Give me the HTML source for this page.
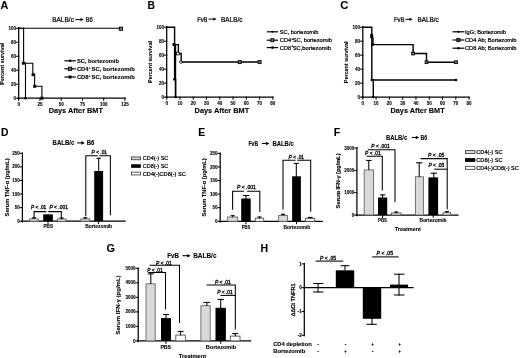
<!DOCTYPE html>
<html><head><meta charset="utf-8"><style>
html,body{margin:0;padding:0;background:#fff;width:520px;height:358px;overflow:hidden}
svg{display:block;will-change:transform}
text{font-family:"Liberation Sans",sans-serif}

</style></head><body>
<svg width="520" height="358" viewBox="0 0 520 358">
<rect width="520" height="358" fill="#fff"/>
<text x="0.45" y="8.55" font-size="11" stroke="#000" stroke-width="0.1" font-weight="bold" textLength="7.78" lengthAdjust="spacingAndGlyphs">A</text>
<text x="147.55" y="8.80" font-size="11" stroke="#000" stroke-width="0.1" font-weight="bold" textLength="7.43" lengthAdjust="spacingAndGlyphs">B</text>
<text x="340.15" y="8.60" font-size="11" stroke="#000" stroke-width="0.1" font-weight="bold" textLength="8.13" lengthAdjust="spacingAndGlyphs">C</text>
<text x="0.95" y="135.80" font-size="11" stroke="#000" stroke-width="0.1" font-weight="bold" textLength="7.43" lengthAdjust="spacingAndGlyphs">D</text>
<text x="198.25" y="135.70" font-size="11" stroke="#000" stroke-width="0.1" font-weight="bold" textLength="6.94" lengthAdjust="spacingAndGlyphs">E</text>
<text x="333.65" y="135.80" font-size="11" stroke="#000" stroke-width="0.1" font-weight="bold" textLength="6.46" lengthAdjust="spacingAndGlyphs">F</text>
<text x="106.55" y="252.00" font-size="11" stroke="#000" stroke-width="0.1" font-weight="bold" textLength="8.49" lengthAdjust="spacingAndGlyphs">G</text>
<text x="260.55" y="252.20" font-size="11" stroke="#000" stroke-width="0.1" font-weight="bold" textLength="7.60" lengthAdjust="spacingAndGlyphs">H</text>
<line x1="18.70" y1="27.70" x2="18.70" y2="98.80" stroke="#000" stroke-width="1.25" stroke-linecap="square"/>
<line x1="16.30" y1="98.20" x2="18.70" y2="98.20" stroke="#000" stroke-width="1.0" stroke-linecap="square"/>
<text x="16.00" y="99.80" font-size="4.5" stroke="#000" stroke-width="0.1" font-weight="bold" text-anchor="end">0</text>
<line x1="16.30" y1="84.22" x2="18.70" y2="84.22" stroke="#000" stroke-width="1.0" stroke-linecap="square"/>
<text x="16.00" y="85.82" font-size="4.5" stroke="#000" stroke-width="0.1" font-weight="bold" text-anchor="end">20</text>
<line x1="16.30" y1="70.24" x2="18.70" y2="70.24" stroke="#000" stroke-width="1.0" stroke-linecap="square"/>
<text x="16.00" y="71.84" font-size="4.5" stroke="#000" stroke-width="0.1" font-weight="bold" text-anchor="end">40</text>
<line x1="16.30" y1="56.26" x2="18.70" y2="56.26" stroke="#000" stroke-width="1.0" stroke-linecap="square"/>
<text x="16.00" y="57.86" font-size="4.5" stroke="#000" stroke-width="0.1" font-weight="bold" text-anchor="end">60</text>
<line x1="16.30" y1="42.28" x2="18.70" y2="42.28" stroke="#000" stroke-width="1.0" stroke-linecap="square"/>
<text x="16.00" y="43.88" font-size="4.5" stroke="#000" stroke-width="0.1" font-weight="bold" text-anchor="end">80</text>
<line x1="16.30" y1="28.30" x2="18.70" y2="28.30" stroke="#000" stroke-width="1.0" stroke-linecap="square"/>
<text x="16.00" y="29.90" font-size="4.5" stroke="#000" stroke-width="0.1" font-weight="bold" text-anchor="end">100</text>
<line x1="18.10" y1="98.20" x2="125.30" y2="98.20" stroke="#000" stroke-width="1.25" stroke-linecap="square"/>
<line x1="18.70" y1="98.20" x2="18.70" y2="100.40" stroke="#000" stroke-width="1.0" stroke-linecap="square"/>
<text x="18.70" y="105.80" font-size="4.5" stroke="#000" stroke-width="0.1" font-weight="bold" text-anchor="middle">0</text>
<line x1="39.95" y1="98.20" x2="39.95" y2="100.40" stroke="#000" stroke-width="1.0" stroke-linecap="square"/>
<text x="39.95" y="105.80" font-size="4.5" stroke="#000" stroke-width="0.1" font-weight="bold" text-anchor="middle">25</text>
<line x1="61.20" y1="98.20" x2="61.20" y2="100.40" stroke="#000" stroke-width="1.0" stroke-linecap="square"/>
<text x="61.20" y="105.80" font-size="4.5" stroke="#000" stroke-width="0.1" font-weight="bold" text-anchor="middle">50</text>
<line x1="82.45" y1="98.20" x2="82.45" y2="100.40" stroke="#000" stroke-width="1.0" stroke-linecap="square"/>
<text x="82.45" y="105.80" font-size="4.5" stroke="#000" stroke-width="0.1" font-weight="bold" text-anchor="middle">75</text>
<line x1="103.70" y1="98.20" x2="103.70" y2="100.40" stroke="#000" stroke-width="1.0" stroke-linecap="square"/>
<text x="103.70" y="105.80" font-size="4.5" stroke="#000" stroke-width="0.1" font-weight="bold" text-anchor="middle">100</text>
<line x1="124.95" y1="98.20" x2="124.95" y2="100.40" stroke="#000" stroke-width="1.0" stroke-linecap="square"/>
<text x="124.95" y="105.80" font-size="4.5" stroke="#000" stroke-width="0.1" font-weight="bold" text-anchor="middle">125</text>
<text x="4.40" y="63.80" font-size="6.2" stroke="#000" stroke-width="0.1" font-weight="bold" text-anchor="middle" textLength="41.80" lengthAdjust="spacingAndGlyphs" transform="rotate(-90 4.40 63.80)">Percent survival</text>
<text x="48.70" y="113.30" font-size="7.4" stroke="#000" stroke-width="0.1" font-weight="bold" textLength="54.20" lengthAdjust="spacingAndGlyphs">Days After BMT</text>
<text x="52.20" y="22.00" font-size="6.8" stroke="#000" stroke-width="0.22" textLength="21.70" lengthAdjust="spacingAndGlyphs">BALB/c</text>
<line x1="75.30" y1="19.60" x2="80.80" y2="19.60" stroke="#000" stroke-width="1.0"/>
<path d="M83.70,19.60 L80.50,18.00 L80.50,21.20 Z" fill="#000"/>
<text x="85.50" y="22.00" font-size="6.8" stroke="#000" stroke-width="0.22" textLength="7.30" lengthAdjust="spacingAndGlyphs">B6</text>
<path d="M18.70,28.30 L120.90,28.30" fill="none" stroke="#000" stroke-width="1.1" stroke-linejoin="miter" stroke-linecap="square"/>
<path d="M18.70,28.30 L23.60,28.30 L23.60,63.20 L32.80,63.20 L32.80,74.60 L34.60,74.60 L34.60,86.30 L41.90,86.30 L41.90,98.20" fill="none" stroke="#000" stroke-width="1.1" stroke-linejoin="miter" stroke-linecap="square"/>
<path d="M23.60,63.20 L25.50,63.20 L25.50,98.20" fill="none" stroke="#000" stroke-width="1.1" stroke-linejoin="miter" stroke-linecap="square"/>
<rect x="119.30" y="27.10" width="3.20" height="3.20" fill="#777" stroke="#000" stroke-width="0.9"/>
<rect x="21.90" y="61.70" width="3.00" height="3.00" fill="#000"/>
<rect x="31.60" y="73.10" width="3.00" height="3.00" fill="#000"/>
<rect x="33.20" y="84.80" width="3.00" height="3.00" fill="#000"/>
<rect x="40.40" y="96.70" width="3.00" height="3.00" fill="#000"/>
<circle cx="25.50" cy="98.20" r="1.4" fill="#000"/>
<line x1="65.00" y1="60.80" x2="75.20" y2="60.80" stroke="#000" stroke-width="1.2" stroke-linecap="square"/>
<circle cx="70.10" cy="60.80" r="1.2" fill="#000"/>
<line x1="65.00" y1="68.80" x2="75.20" y2="68.80" stroke="#000" stroke-width="1.2" stroke-linecap="square"/>
<rect x="68.50" y="67.20" width="3.20" height="3.20" fill="#777" stroke="#000" stroke-width="0.9"/>
<line x1="65.00" y1="77.00" x2="75.20" y2="77.00" stroke="#000" stroke-width="1.2" stroke-linecap="square"/>
<rect x="68.60" y="75.50" width="3.00" height="3.00" fill="#000"/>
<text x="76.90" y="62.90" font-size="5.8" stroke="#000" stroke-width="0.1" font-weight="bold" textLength="42.00" lengthAdjust="spacingAndGlyphs">SC, bortezomib</text>
<text x="76.90" y="70.90" font-size="5.8" stroke="#000" stroke-width="0.1" font-weight="bold">CD4</text>
<text x="88.70" y="68.50" font-size="3.3" stroke="#000" stroke-width="0.1" font-weight="bold">+</text>
<text x="91.50" y="70.90" font-size="5.8" stroke="#000" stroke-width="0.1" font-weight="bold" textLength="43.30" lengthAdjust="spacingAndGlyphs">SC, bortezomib</text>
<text x="76.90" y="79.10" font-size="5.8" stroke="#000" stroke-width="0.1" font-weight="bold">CD8</text>
<text x="88.70" y="76.70" font-size="3.3" stroke="#000" stroke-width="0.1" font-weight="bold">+</text>
<text x="91.50" y="79.10" font-size="5.8" stroke="#000" stroke-width="0.1" font-weight="bold" textLength="43.30" lengthAdjust="spacingAndGlyphs">SC, bortezomib</text>
<line x1="166.70" y1="26.60" x2="166.70" y2="97.70" stroke="#000" stroke-width="1.25" stroke-linecap="square"/>
<line x1="164.30" y1="97.10" x2="166.70" y2="97.10" stroke="#000" stroke-width="1.0" stroke-linecap="square"/>
<text x="164.00" y="98.70" font-size="4.5" stroke="#000" stroke-width="0.1" font-weight="bold" text-anchor="end">0</text>
<line x1="164.30" y1="83.12" x2="166.70" y2="83.12" stroke="#000" stroke-width="1.0" stroke-linecap="square"/>
<text x="164.00" y="84.72" font-size="4.5" stroke="#000" stroke-width="0.1" font-weight="bold" text-anchor="end">20</text>
<line x1="164.30" y1="69.14" x2="166.70" y2="69.14" stroke="#000" stroke-width="1.0" stroke-linecap="square"/>
<text x="164.00" y="70.74" font-size="4.5" stroke="#000" stroke-width="0.1" font-weight="bold" text-anchor="end">40</text>
<line x1="164.30" y1="55.16" x2="166.70" y2="55.16" stroke="#000" stroke-width="1.0" stroke-linecap="square"/>
<text x="164.00" y="56.76" font-size="4.5" stroke="#000" stroke-width="0.1" font-weight="bold" text-anchor="end">60</text>
<line x1="164.30" y1="41.18" x2="166.70" y2="41.18" stroke="#000" stroke-width="1.0" stroke-linecap="square"/>
<text x="164.00" y="42.78" font-size="4.5" stroke="#000" stroke-width="0.1" font-weight="bold" text-anchor="end">80</text>
<line x1="164.30" y1="27.20" x2="166.70" y2="27.20" stroke="#000" stroke-width="1.0" stroke-linecap="square"/>
<text x="164.00" y="28.80" font-size="4.5" stroke="#000" stroke-width="0.1" font-weight="bold" text-anchor="end">100</text>
<line x1="166.10" y1="97.10" x2="272.90" y2="97.10" stroke="#000" stroke-width="1.25" stroke-linecap="square"/>
<line x1="166.70" y1="97.10" x2="166.70" y2="99.30" stroke="#000" stroke-width="1.0" stroke-linecap="square"/>
<text x="166.70" y="104.80" font-size="4.5" stroke="#000" stroke-width="0.1" font-weight="bold" text-anchor="middle">0</text>
<line x1="179.97" y1="97.10" x2="179.97" y2="99.30" stroke="#000" stroke-width="1.0" stroke-linecap="square"/>
<text x="179.97" y="104.80" font-size="4.5" stroke="#000" stroke-width="0.1" font-weight="bold" text-anchor="middle">10</text>
<line x1="193.24" y1="97.10" x2="193.24" y2="99.30" stroke="#000" stroke-width="1.0" stroke-linecap="square"/>
<text x="193.24" y="104.80" font-size="4.5" stroke="#000" stroke-width="0.1" font-weight="bold" text-anchor="middle">20</text>
<line x1="206.51" y1="97.10" x2="206.51" y2="99.30" stroke="#000" stroke-width="1.0" stroke-linecap="square"/>
<text x="206.51" y="104.80" font-size="4.5" stroke="#000" stroke-width="0.1" font-weight="bold" text-anchor="middle">30</text>
<line x1="219.78" y1="97.10" x2="219.78" y2="99.30" stroke="#000" stroke-width="1.0" stroke-linecap="square"/>
<text x="219.78" y="104.80" font-size="4.5" stroke="#000" stroke-width="0.1" font-weight="bold" text-anchor="middle">40</text>
<line x1="233.05" y1="97.10" x2="233.05" y2="99.30" stroke="#000" stroke-width="1.0" stroke-linecap="square"/>
<text x="233.05" y="104.80" font-size="4.5" stroke="#000" stroke-width="0.1" font-weight="bold" text-anchor="middle">50</text>
<line x1="246.32" y1="97.10" x2="246.32" y2="99.30" stroke="#000" stroke-width="1.0" stroke-linecap="square"/>
<text x="246.32" y="104.80" font-size="4.5" stroke="#000" stroke-width="0.1" font-weight="bold" text-anchor="middle">60</text>
<line x1="259.59" y1="97.10" x2="259.59" y2="99.30" stroke="#000" stroke-width="1.0" stroke-linecap="square"/>
<text x="259.59" y="104.80" font-size="4.5" stroke="#000" stroke-width="0.1" font-weight="bold" text-anchor="middle">70</text>
<line x1="272.86" y1="97.10" x2="272.86" y2="99.30" stroke="#000" stroke-width="1.0" stroke-linecap="square"/>
<text x="272.86" y="104.80" font-size="4.5" stroke="#000" stroke-width="0.1" font-weight="bold" text-anchor="middle">80</text>
<text x="152.30" y="62.00" font-size="6.2" stroke="#000" stroke-width="0.1" font-weight="bold" text-anchor="middle" textLength="41.80" lengthAdjust="spacingAndGlyphs" transform="rotate(-90 152.30 62.00)">Percent survival</text>
<text x="194.60" y="112.80" font-size="7.4" stroke="#000" stroke-width="0.1" font-weight="bold" textLength="54.60" lengthAdjust="spacingAndGlyphs">Days After BMT</text>
<text x="197.20" y="21.60" font-size="6.8" stroke="#000" stroke-width="0.22" textLength="10.30" lengthAdjust="spacingAndGlyphs">FvB</text>
<line x1="208.60" y1="19.10" x2="213.70" y2="19.10" stroke="#000" stroke-width="1.0"/>
<path d="M216.60,19.10 L213.40,17.50 L213.40,20.70 Z" fill="#000"/>
<text x="221.10" y="21.60" font-size="6.8" stroke="#000" stroke-width="0.22" textLength="21.40" lengthAdjust="spacingAndGlyphs">BALB/c</text>
<path d="M166.70,27.20 L174.60,27.20 L174.60,79.50 L175.60,79.50 L175.60,97.10" fill="none" stroke="#000" stroke-width="1.4" stroke-linejoin="miter" stroke-linecap="square"/>
<path d="M174.60,44.60 L178.40,44.60 L178.40,53.50 L181.20,53.50 L181.20,62.00 L259.50,62.00" fill="none" stroke="#000" stroke-width="1.4" stroke-linejoin="miter" stroke-linecap="square"/>
<line x1="175.50" y1="44.60" x2="175.50" y2="97.10" stroke="#000" stroke-width="1.4" stroke-linecap="square"/>
<rect x="172.50" y="43.00" width="2.80" height="3.00" fill="#000"/>
<circle cx="173.90" cy="79.40" r="1.0" fill="#000"/>
<circle cx="175.60" cy="97.10" r="1.2" fill="#000"/>
<rect x="176.50" y="52.20" width="2.70" height="2.70" fill="#fff" stroke="#000" stroke-width="0.8"/>
<circle cx="180.90" cy="62.00" r="1.3" fill="#fff" stroke="#000" stroke-width="0.8"/>
<rect x="238.20" y="60.60" width="3.00" height="3.00" fill="#777" stroke="#000" stroke-width="0.9"/>
<rect x="258.10" y="60.60" width="3.00" height="3.00" fill="#777" stroke="#000" stroke-width="0.9"/>
<line x1="267.40" y1="31.80" x2="277.50" y2="31.80" stroke="#000" stroke-width="1.2" stroke-linecap="square"/>
<circle cx="272.40" cy="31.80" r="1.0" fill="#000"/>
<line x1="267.40" y1="40.20" x2="277.50" y2="40.20" stroke="#000" stroke-width="1.2" stroke-linecap="square"/>
<rect x="270.90" y="38.70" width="3.00" height="3.00" fill="#777" stroke="#000" stroke-width="0.9"/>
<line x1="267.40" y1="47.60" x2="277.50" y2="47.60" stroke="#000" stroke-width="1.2" stroke-linecap="square"/>
<circle cx="272.40" cy="47.60" r="1.4" fill="#000"/>
<text x="279.80" y="33.80" font-size="5.7" stroke="#000" stroke-width="0.22" textLength="38.60" lengthAdjust="spacingAndGlyphs">SC, bortezomib</text>
<text x="279.80" y="42.30" font-size="5.7" stroke="#000" stroke-width="0.22">CD4</text>
<text x="291.40" y="39.90" font-size="3.0" stroke="#000" stroke-width="0.22">+</text>
<text x="292.70" y="42.30" font-size="5.7" stroke="#000" stroke-width="0.22" textLength="39.20" lengthAdjust="spacingAndGlyphs">SC, bortezomib</text>
<text x="279.80" y="49.70" font-size="5.7" stroke="#000" stroke-width="0.22">CD8</text>
<text x="291.40" y="47.30" font-size="3.0" stroke="#000" stroke-width="0.22">+</text>
<text x="292.70" y="49.70" font-size="5.7" stroke="#000" stroke-width="0.22" textLength="38.40" lengthAdjust="spacingAndGlyphs">SC,bortezomib</text>
<line x1="362.80" y1="26.60" x2="362.80" y2="97.70" stroke="#000" stroke-width="1.25" stroke-linecap="square"/>
<line x1="360.40" y1="97.10" x2="362.80" y2="97.10" stroke="#000" stroke-width="1.0" stroke-linecap="square"/>
<text x="360.10" y="98.70" font-size="4.5" stroke="#000" stroke-width="0.1" font-weight="bold" text-anchor="end">0</text>
<line x1="360.40" y1="83.12" x2="362.80" y2="83.12" stroke="#000" stroke-width="1.0" stroke-linecap="square"/>
<text x="360.10" y="84.72" font-size="4.5" stroke="#000" stroke-width="0.1" font-weight="bold" text-anchor="end">20</text>
<line x1="360.40" y1="69.14" x2="362.80" y2="69.14" stroke="#000" stroke-width="1.0" stroke-linecap="square"/>
<text x="360.10" y="70.74" font-size="4.5" stroke="#000" stroke-width="0.1" font-weight="bold" text-anchor="end">40</text>
<line x1="360.40" y1="55.16" x2="362.80" y2="55.16" stroke="#000" stroke-width="1.0" stroke-linecap="square"/>
<text x="360.10" y="56.76" font-size="4.5" stroke="#000" stroke-width="0.1" font-weight="bold" text-anchor="end">60</text>
<line x1="360.40" y1="41.18" x2="362.80" y2="41.18" stroke="#000" stroke-width="1.0" stroke-linecap="square"/>
<text x="360.10" y="42.78" font-size="4.5" stroke="#000" stroke-width="0.1" font-weight="bold" text-anchor="end">80</text>
<line x1="360.40" y1="27.20" x2="362.80" y2="27.20" stroke="#000" stroke-width="1.0" stroke-linecap="square"/>
<text x="360.10" y="28.80" font-size="4.5" stroke="#000" stroke-width="0.1" font-weight="bold" text-anchor="end">100</text>
<line x1="362.20" y1="97.10" x2="469.00" y2="97.10" stroke="#000" stroke-width="1.25" stroke-linecap="square"/>
<line x1="362.80" y1="97.10" x2="362.80" y2="99.30" stroke="#000" stroke-width="1.0" stroke-linecap="square"/>
<text x="362.80" y="105.00" font-size="4.5" stroke="#000" stroke-width="0.1" font-weight="bold" text-anchor="middle">0</text>
<line x1="376.09" y1="97.10" x2="376.09" y2="99.30" stroke="#000" stroke-width="1.0" stroke-linecap="square"/>
<text x="376.09" y="105.00" font-size="4.5" stroke="#000" stroke-width="0.1" font-weight="bold" text-anchor="middle">10</text>
<line x1="389.38" y1="97.10" x2="389.38" y2="99.30" stroke="#000" stroke-width="1.0" stroke-linecap="square"/>
<text x="389.38" y="105.00" font-size="4.5" stroke="#000" stroke-width="0.1" font-weight="bold" text-anchor="middle">20</text>
<line x1="402.67" y1="97.10" x2="402.67" y2="99.30" stroke="#000" stroke-width="1.0" stroke-linecap="square"/>
<text x="402.67" y="105.00" font-size="4.5" stroke="#000" stroke-width="0.1" font-weight="bold" text-anchor="middle">30</text>
<line x1="415.96" y1="97.10" x2="415.96" y2="99.30" stroke="#000" stroke-width="1.0" stroke-linecap="square"/>
<text x="415.96" y="105.00" font-size="4.5" stroke="#000" stroke-width="0.1" font-weight="bold" text-anchor="middle">40</text>
<line x1="429.25" y1="97.10" x2="429.25" y2="99.30" stroke="#000" stroke-width="1.0" stroke-linecap="square"/>
<text x="429.25" y="105.00" font-size="4.5" stroke="#000" stroke-width="0.1" font-weight="bold" text-anchor="middle">50</text>
<line x1="442.54" y1="97.10" x2="442.54" y2="99.30" stroke="#000" stroke-width="1.0" stroke-linecap="square"/>
<text x="442.54" y="105.00" font-size="4.5" stroke="#000" stroke-width="0.1" font-weight="bold" text-anchor="middle">60</text>
<line x1="455.83" y1="97.10" x2="455.83" y2="99.30" stroke="#000" stroke-width="1.0" stroke-linecap="square"/>
<text x="455.83" y="105.00" font-size="4.5" stroke="#000" stroke-width="0.1" font-weight="bold" text-anchor="middle">70</text>
<line x1="469.12" y1="97.10" x2="469.12" y2="99.30" stroke="#000" stroke-width="1.0" stroke-linecap="square"/>
<text x="469.12" y="105.00" font-size="4.5" stroke="#000" stroke-width="0.1" font-weight="bold" text-anchor="middle">80</text>
<text x="348.20" y="62.30" font-size="6.2" stroke="#000" stroke-width="0.1" font-weight="bold" text-anchor="middle" textLength="41.80" lengthAdjust="spacingAndGlyphs" transform="rotate(-90 348.20 62.30)">Percent survival</text>
<text x="390.50" y="113.10" font-size="7.4" stroke="#000" stroke-width="0.1" font-weight="bold" textLength="54.10" lengthAdjust="spacingAndGlyphs">Days After BMT</text>
<text x="393.90" y="21.80" font-size="6.8" stroke="#000" stroke-width="0.22" textLength="10.60" lengthAdjust="spacingAndGlyphs">FvB</text>
<line x1="405.40" y1="19.30" x2="409.70" y2="19.30" stroke="#000" stroke-width="1.0"/>
<path d="M412.60,19.30 L409.40,17.70 L409.40,20.90 Z" fill="#000"/>
<text x="417.40" y="21.80" font-size="6.8" stroke="#000" stroke-width="0.22" textLength="21.40" lengthAdjust="spacingAndGlyphs">BALB/c</text>
<path d="M362.80,27.20 L371.80,27.20 L371.80,80.00 L456.00,80.00" fill="none" stroke="#000" stroke-width="1.4" stroke-linejoin="miter" stroke-linecap="square"/>
<path d="M371.80,36.00 L373.00,38.50 L373.00,44.60 L413.10,44.60 L413.10,53.50 L426.50,53.50 L426.50,62.20 L456.00,62.20" fill="none" stroke="#000" stroke-width="1.4" stroke-linejoin="miter" stroke-linecap="square"/>
<path d="M371.80,80.00 L373.30,80.00 L373.30,97.10" fill="none" stroke="#000" stroke-width="1.4" stroke-linejoin="miter" stroke-linecap="square"/>
<rect x="370.20" y="34.00" width="3.00" height="4.20" fill="#000"/>
<circle cx="372.80" cy="44.60" r="1.3" fill="#000"/>
<rect x="411.70" y="52.10" width="2.80" height="2.80" fill="#777" stroke="#000" stroke-width="0.9"/>
<rect x="425.10" y="60.80" width="2.80" height="2.80" fill="#777" stroke="#000" stroke-width="0.9"/>
<rect x="454.60" y="60.80" width="2.80" height="2.80" fill="#777" stroke="#000" stroke-width="0.9"/>
<circle cx="456.00" cy="80.00" r="1.3" fill="#000"/>
<circle cx="371.70" cy="80.00" r="1.2" fill="#000"/>
<circle cx="373.30" cy="97.10" r="1.2" fill="#000"/>
<line x1="453.10" y1="31.80" x2="463.80" y2="31.80" stroke="#000" stroke-width="1.2" stroke-linecap="square"/>
<circle cx="458.40" cy="31.80" r="1.1" fill="#000"/>
<line x1="453.10" y1="40.00" x2="463.80" y2="40.00" stroke="#000" stroke-width="1.2" stroke-linecap="square"/>
<rect x="456.90" y="38.50" width="3.00" height="3.00" fill="#444" stroke="#000" stroke-width="0.9"/>
<line x1="453.10" y1="48.20" x2="463.80" y2="48.20" stroke="#000" stroke-width="1.2" stroke-linecap="square"/>
<circle cx="458.40" cy="48.20" r="1.3" fill="#000"/>
<text x="465.00" y="33.80" font-size="5.7" stroke="#000" stroke-width="0.22" textLength="41.00" lengthAdjust="spacingAndGlyphs">IgG; Bortezomib</text>
<text x="465.00" y="42.00" font-size="5.7" stroke="#000" stroke-width="0.22" textLength="51.50" lengthAdjust="spacingAndGlyphs">CD4 Ab; Bortezomib</text>
<text x="465.00" y="50.20" font-size="5.7" stroke="#000" stroke-width="0.22" textLength="51.50" lengthAdjust="spacingAndGlyphs">CD8 Ab; Bortezomib</text>
<line x1="22.40" y1="153.00" x2="22.40" y2="221.80" stroke="#000" stroke-width="1.25" stroke-linecap="square"/>
<line x1="21.80" y1="221.20" x2="125.10" y2="221.20" stroke="#000" stroke-width="1.25" stroke-linecap="square"/>
<line x1="20.10" y1="221.20" x2="22.40" y2="221.20" stroke="#000" stroke-width="1.0" stroke-linecap="square"/>
<text x="19.80" y="222.80" font-size="4.5" stroke="#000" stroke-width="0.1" font-weight="bold" text-anchor="end">0</text>
<line x1="20.10" y1="207.62" x2="22.40" y2="207.62" stroke="#000" stroke-width="1.0" stroke-linecap="square"/>
<text x="19.80" y="209.22" font-size="4.5" stroke="#000" stroke-width="0.1" font-weight="bold" text-anchor="end">50</text>
<line x1="20.10" y1="194.04" x2="22.40" y2="194.04" stroke="#000" stroke-width="1.0" stroke-linecap="square"/>
<text x="19.80" y="195.64" font-size="4.5" stroke="#000" stroke-width="0.1" font-weight="bold" text-anchor="end">100</text>
<line x1="20.10" y1="180.46" x2="22.40" y2="180.46" stroke="#000" stroke-width="1.0" stroke-linecap="square"/>
<text x="19.80" y="182.06" font-size="4.5" stroke="#000" stroke-width="0.1" font-weight="bold" text-anchor="end">150</text>
<line x1="20.10" y1="166.88" x2="22.40" y2="166.88" stroke="#000" stroke-width="1.0" stroke-linecap="square"/>
<text x="19.80" y="168.48" font-size="4.5" stroke="#000" stroke-width="0.1" font-weight="bold" text-anchor="end">200</text>
<line x1="20.10" y1="153.30" x2="22.40" y2="153.30" stroke="#000" stroke-width="1.0" stroke-linecap="square"/>
<text x="19.80" y="154.90" font-size="4.5" stroke="#000" stroke-width="0.1" font-weight="bold" text-anchor="end">250</text>
<text x="8.60" y="187.40" font-size="6.1" stroke="#000" stroke-width="0.1" font-weight="bold" text-anchor="middle" textLength="58.00" lengthAdjust="spacingAndGlyphs" transform="rotate(-90 8.60 187.40)">Serum TNF-α (pg/mL)</text>
<text x="52.60" y="145.40" font-size="6.6" stroke="#000" stroke-width="0.1" font-weight="bold" textLength="21.80" lengthAdjust="spacingAndGlyphs">BALB/c</text>
<line x1="77.10" y1="142.90" x2="81.70" y2="142.90" stroke="#000" stroke-width="1.1"/>
<path d="M84.80,142.90 L81.40,141.10 L81.40,144.70 Z" fill="#000"/>
<text x="86.70" y="145.40" font-size="6.6" stroke="#000" stroke-width="0.1" font-weight="bold" textLength="7.70" lengthAdjust="spacingAndGlyphs">B6</text>
<rect x="29.70" y="218.80" width="8.60" height="2.40" fill="#d9d9d9" stroke="#666" stroke-width="0.9"/>
<line x1="34.00" y1="218.40" x2="34.00" y2="217.80" stroke="#000" stroke-width="1.05" stroke-linecap="square"/>
<line x1="32.40" y1="217.80" x2="35.60" y2="217.80" stroke="#000" stroke-width="1.05" stroke-linecap="square"/>
<rect x="43.20" y="214.30" width="9.70" height="6.90" fill="#000"/>
<rect x="57.40" y="219.00" width="8.50" height="2.20" fill="#fff" stroke="#555" stroke-width="0.9"/>
<line x1="61.65" y1="218.60" x2="61.65" y2="218.00" stroke="#000" stroke-width="1.05" stroke-linecap="square"/>
<line x1="60.05" y1="218.00" x2="63.25" y2="218.00" stroke="#000" stroke-width="1.05" stroke-linecap="square"/>
<path d="M34.10,216.90 L34.10,211.60 L45.80,211.60" fill="none" stroke="#000" stroke-width="1.05" stroke-linejoin="miter" stroke-linecap="square"/>
<path d="M48.80,211.60 L61.30,211.60 L61.30,216.90" fill="none" stroke="#000" stroke-width="1.05" stroke-linejoin="miter" stroke-linecap="square"/>
<text x="31.00" y="209.40" font-size="5.0" stroke="#000" stroke-width="0.3" textLength="15.20" lengthAdjust="spacingAndGlyphs"><tspan font-style="italic">P</tspan> &lt; .01</text>
<text x="49.40" y="209.40" font-size="5.0" stroke="#000" stroke-width="0.3" textLength="18.50" lengthAdjust="spacingAndGlyphs"><tspan font-style="italic">P</tspan> &lt; .001</text>
<rect x="80.80" y="218.90" width="8.90" height="2.30" fill="#d9d9d9" stroke="#666" stroke-width="0.9"/>
<line x1="85.25" y1="218.50" x2="85.25" y2="217.80" stroke="#000" stroke-width="1.05" stroke-linecap="square"/>
<line x1="83.65" y1="217.80" x2="86.85" y2="217.80" stroke="#000" stroke-width="1.05" stroke-linecap="square"/>
<rect x="94.20" y="171.00" width="8.90" height="50.20" fill="#000"/>
<line x1="98.70" y1="171.00" x2="98.70" y2="158.30" stroke="#000" stroke-width="1.05" stroke-linecap="square"/>
<line x1="97.10" y1="158.30" x2="100.30" y2="158.30" stroke="#000" stroke-width="1.05" stroke-linecap="square"/>
<path d="M85.80,215.70 L85.80,155.80 L97.30,155.80" fill="none" stroke="#000" stroke-width="1.05" stroke-linejoin="miter" stroke-linecap="square"/>
<path d="M99.80,155.80 L110.40,155.80 L110.40,214.60" fill="none" stroke="#000" stroke-width="1.05" stroke-linejoin="miter" stroke-linecap="square"/>
<text x="91.60" y="154.10" font-size="5.0" stroke="#000" stroke-width="0.3" textLength="15.40" lengthAdjust="spacingAndGlyphs"><tspan font-style="italic">P</tspan> &lt; .01</text>
<text x="43.50" y="228.00" font-size="5.0" stroke="#000" stroke-width="0.1" font-weight="bold" textLength="9.50" lengthAdjust="spacingAndGlyphs">PBS</text>
<text x="85.20" y="228.00" font-size="5.0" stroke="#000" stroke-width="0.1" font-weight="bold" textLength="26.90" lengthAdjust="spacingAndGlyphs">Bortezomib</text>
<rect x="131.50" y="156.95" width="9.00" height="2.80" fill="#d9d9d9" stroke="#333" stroke-width="0.8"/>
<text x="142.80" y="160.35" font-size="5.6" stroke="#000" stroke-width="0.22" textLength="25.40" lengthAdjust="spacingAndGlyphs">CD4(-) SC</text>
<rect x="131.10" y="164.25" width="9.80" height="3.60" fill="#000"/>
<text x="142.80" y="168.05" font-size="5.6" stroke="#000" stroke-width="0.22" textLength="25.40" lengthAdjust="spacingAndGlyphs">CD8(-) SC</text>
<rect x="131.50" y="172.15" width="9.00" height="2.80" fill="#fff" stroke="#333" stroke-width="0.8"/>
<text x="142.80" y="175.55" font-size="5.6" stroke="#000" stroke-width="0.22" textLength="42.90" lengthAdjust="spacingAndGlyphs">CD4(-)CD8(-) SC</text>
<line x1="220.20" y1="153.00" x2="220.20" y2="221.90" stroke="#000" stroke-width="1.25" stroke-linecap="square"/>
<line x1="219.60" y1="221.30" x2="322.20" y2="221.30" stroke="#000" stroke-width="1.25" stroke-linecap="square"/>
<line x1="217.90" y1="221.30" x2="220.20" y2="221.30" stroke="#000" stroke-width="1.0" stroke-linecap="square"/>
<text x="217.60" y="222.90" font-size="4.5" stroke="#000" stroke-width="0.1" font-weight="bold" text-anchor="end">0</text>
<line x1="217.90" y1="207.72" x2="220.20" y2="207.72" stroke="#000" stroke-width="1.0" stroke-linecap="square"/>
<text x="217.60" y="209.32" font-size="4.5" stroke="#000" stroke-width="0.1" font-weight="bold" text-anchor="end">50</text>
<line x1="217.90" y1="194.14" x2="220.20" y2="194.14" stroke="#000" stroke-width="1.0" stroke-linecap="square"/>
<text x="217.60" y="195.74" font-size="4.5" stroke="#000" stroke-width="0.1" font-weight="bold" text-anchor="end">100</text>
<line x1="217.90" y1="180.56" x2="220.20" y2="180.56" stroke="#000" stroke-width="1.0" stroke-linecap="square"/>
<text x="217.60" y="182.16" font-size="4.5" stroke="#000" stroke-width="0.1" font-weight="bold" text-anchor="end">150</text>
<line x1="217.90" y1="166.98" x2="220.20" y2="166.98" stroke="#000" stroke-width="1.0" stroke-linecap="square"/>
<text x="217.60" y="168.58" font-size="4.5" stroke="#000" stroke-width="0.1" font-weight="bold" text-anchor="end">200</text>
<line x1="217.90" y1="153.40" x2="220.20" y2="153.40" stroke="#000" stroke-width="1.0" stroke-linecap="square"/>
<text x="217.60" y="155.00" font-size="4.5" stroke="#000" stroke-width="0.1" font-weight="bold" text-anchor="end">250</text>
<text x="206.20" y="187.40" font-size="6.1" stroke="#000" stroke-width="0.1" font-weight="bold" text-anchor="middle" textLength="58.00" lengthAdjust="spacingAndGlyphs" transform="rotate(-90 206.20 187.40)">Serum TNF-α (pg/mL)</text>
<text x="248.50" y="145.60" font-size="6.6" stroke="#000" stroke-width="0.1" font-weight="bold" textLength="9.60" lengthAdjust="spacingAndGlyphs">FvB</text>
<line x1="261.90" y1="143.50" x2="266.30" y2="143.50" stroke="#000" stroke-width="1.1"/>
<path d="M269.40,143.50 L266.00,141.70 L266.00,145.30 Z" fill="#000"/>
<text x="272.50" y="145.60" font-size="6.6" stroke="#000" stroke-width="0.1" font-weight="bold" textLength="21.30" lengthAdjust="spacingAndGlyphs">BALB/c</text>
<rect x="227.60" y="217.00" width="10.10" height="4.30" fill="#d9d9d9" stroke="#666" stroke-width="0.9"/>
<line x1="232.65" y1="216.60" x2="232.65" y2="215.70" stroke="#000" stroke-width="1.05" stroke-linecap="square"/>
<line x1="231.05" y1="215.70" x2="234.25" y2="215.70" stroke="#000" stroke-width="1.05" stroke-linecap="square"/>
<rect x="241.20" y="198.50" width="9.50" height="22.80" fill="#000"/>
<line x1="245.95" y1="198.50" x2="245.95" y2="195.50" stroke="#000" stroke-width="1.05" stroke-linecap="square"/>
<line x1="243.35" y1="195.50" x2="248.55" y2="195.50" stroke="#000" stroke-width="1.05" stroke-linecap="square"/>
<rect x="255.30" y="218.20" width="8.40" height="3.10" fill="#fff" stroke="#555" stroke-width="0.9"/>
<line x1="259.50" y1="217.80" x2="259.50" y2="217.00" stroke="#000" stroke-width="1.05" stroke-linecap="square"/>
<line x1="257.90" y1="217.00" x2="261.10" y2="217.00" stroke="#000" stroke-width="1.05" stroke-linecap="square"/>
<path d="M232.60,209.30 L232.60,191.20 L243.50,191.20" fill="none" stroke="#000" stroke-width="1.05" stroke-linejoin="miter" stroke-linecap="square"/>
<path d="M247.70,191.20 L259.80,191.20 L259.80,211.50" fill="none" stroke="#000" stroke-width="1.05" stroke-linejoin="miter" stroke-linecap="square"/>
<text x="236.90" y="189.20" font-size="5.0" stroke="#000" stroke-width="0.3" textLength="19.00" lengthAdjust="spacingAndGlyphs"><tspan font-style="italic">P</tspan> &lt; .001</text>
<rect x="278.60" y="215.40" width="8.90" height="5.90" fill="#d9d9d9" stroke="#666" stroke-width="0.9"/>
<line x1="283.05" y1="215.00" x2="283.05" y2="214.30" stroke="#000" stroke-width="1.05" stroke-linecap="square"/>
<line x1="281.45" y1="214.30" x2="284.65" y2="214.30" stroke="#000" stroke-width="1.05" stroke-linecap="square"/>
<rect x="292.10" y="176.30" width="8.80" height="45.00" fill="#000"/>
<line x1="296.30" y1="176.30" x2="296.30" y2="163.40" stroke="#000" stroke-width="1.05" stroke-linecap="square"/>
<line x1="294.30" y1="163.40" x2="298.30" y2="163.40" stroke="#000" stroke-width="1.05" stroke-linecap="square"/>
<rect x="305.60" y="218.40" width="9.10" height="2.90" fill="#fff" stroke="#555" stroke-width="0.9"/>
<line x1="310.15" y1="218.00" x2="310.15" y2="217.40" stroke="#000" stroke-width="1.05" stroke-linecap="square"/>
<line x1="308.15" y1="217.40" x2="312.15" y2="217.40" stroke="#000" stroke-width="1.05" stroke-linecap="square"/>
<path d="M283.00,208.90 L283.00,160.20 L295.00,160.20" fill="none" stroke="#000" stroke-width="1.05" stroke-linejoin="miter" stroke-linecap="square"/>
<path d="M297.70,160.20 L310.70,160.20 L310.70,211.30" fill="none" stroke="#000" stroke-width="1.05" stroke-linejoin="miter" stroke-linecap="square"/>
<text x="288.60" y="158.80" font-size="5.0" stroke="#000" stroke-width="0.3" textLength="15.40" lengthAdjust="spacingAndGlyphs"><tspan font-style="italic">P</tspan> &lt; .01</text>
<text x="241.80" y="228.70" font-size="5.0" stroke="#000" stroke-width="0.1" font-weight="bold" textLength="8.50" lengthAdjust="spacingAndGlyphs">PBS</text>
<text x="283.40" y="228.70" font-size="5.0" stroke="#000" stroke-width="0.1" font-weight="bold" textLength="26.90" lengthAdjust="spacingAndGlyphs">Bortezomib</text>
<line x1="356.90" y1="147.60" x2="356.90" y2="215.60" stroke="#000" stroke-width="1.25" stroke-linecap="square"/>
<line x1="356.30" y1="215.00" x2="457.90" y2="215.00" stroke="#000" stroke-width="1.25" stroke-linecap="square"/>
<line x1="354.60" y1="215.00" x2="356.90" y2="215.00" stroke="#000" stroke-width="1.0" stroke-linecap="square"/>
<text x="354.30" y="216.60" font-size="4.5" stroke="#000" stroke-width="0.1" font-weight="bold" text-anchor="end">0</text>
<line x1="354.60" y1="192.67" x2="356.90" y2="192.67" stroke="#000" stroke-width="1.0" stroke-linecap="square"/>
<text x="354.30" y="194.27" font-size="4.5" stroke="#000" stroke-width="0.1" font-weight="bold" text-anchor="end">1000</text>
<line x1="354.60" y1="170.33" x2="356.90" y2="170.33" stroke="#000" stroke-width="1.0" stroke-linecap="square"/>
<text x="354.30" y="171.93" font-size="4.5" stroke="#000" stroke-width="0.1" font-weight="bold" text-anchor="end">2000</text>
<line x1="354.60" y1="148.00" x2="356.90" y2="148.00" stroke="#000" stroke-width="1.0" stroke-linecap="square"/>
<text x="354.30" y="149.60" font-size="4.5" stroke="#000" stroke-width="0.1" font-weight="bold" text-anchor="end">3000</text>
<text x="340.20" y="180.90" font-size="6.1" stroke="#000" stroke-width="0.1" font-weight="bold" text-anchor="middle" textLength="55.00" lengthAdjust="spacingAndGlyphs" transform="rotate(-90 340.20 180.90)">Serum IFN-γ (pg/mL)</text>
<text x="385.90" y="139.60" font-size="6.6" stroke="#000" stroke-width="0.1" font-weight="bold" textLength="21.40" lengthAdjust="spacingAndGlyphs">BALB/c</text>
<line x1="411.70" y1="137.50" x2="416.10" y2="137.50" stroke="#000" stroke-width="1.1"/>
<path d="M419.20,137.50 L415.80,135.70 L415.80,139.30 Z" fill="#000"/>
<text x="420.50" y="139.60" font-size="6.6" stroke="#000" stroke-width="0.1" font-weight="bold" textLength="6.60" lengthAdjust="spacingAndGlyphs">B6</text>
<rect x="364.20" y="169.90" width="9.30" height="45.10" fill="#d9d9d9" stroke="#666" stroke-width="0.9"/>
<line x1="368.80" y1="169.50" x2="368.80" y2="160.40" stroke="#000" stroke-width="1.05" stroke-linecap="square"/>
<line x1="366.40" y1="160.40" x2="371.20" y2="160.40" stroke="#000" stroke-width="1.05" stroke-linecap="square"/>
<rect x="378.00" y="197.50" width="9.20" height="17.50" fill="#000"/>
<line x1="382.60" y1="197.50" x2="382.60" y2="194.90" stroke="#000" stroke-width="1.05" stroke-linecap="square"/>
<line x1="380.40" y1="194.90" x2="384.80" y2="194.90" stroke="#000" stroke-width="1.05" stroke-linecap="square"/>
<rect x="391.40" y="213.00" width="9.60" height="2.00" fill="#fff" stroke="#555" stroke-width="0.9"/>
<line x1="396.20" y1="212.60" x2="396.20" y2="212.00" stroke="#000" stroke-width="1.05" stroke-linecap="square"/>
<line x1="394.60" y1="212.00" x2="397.80" y2="212.00" stroke="#000" stroke-width="1.05" stroke-linecap="square"/>
<path d="M368.20,149.80 L395.00,149.80 L395.00,201.80" fill="none" stroke="#000" stroke-width="1.05" stroke-linejoin="miter" stroke-linecap="square"/>
<path d="M367.20,156.20 L382.30,156.20 L382.30,190.00" fill="none" stroke="#000" stroke-width="1.05" stroke-linejoin="miter" stroke-linecap="square"/>
<text x="371.30" y="147.90" font-size="5.0" stroke="#000" stroke-width="0.3" textLength="18.40" lengthAdjust="spacingAndGlyphs"><tspan font-style="italic">P</tspan> &lt; .001</text>
<text x="365.10" y="154.50" font-size="5.0" stroke="#000" stroke-width="0.3" textLength="15.60" lengthAdjust="spacingAndGlyphs"><tspan font-style="italic">P</tspan> &lt; .01</text>
<rect x="415.40" y="176.80" width="8.00" height="38.20" fill="#d9d9d9" stroke="#666" stroke-width="0.9"/>
<line x1="419.20" y1="176.40" x2="419.20" y2="162.80" stroke="#000" stroke-width="1.05" stroke-linecap="square"/>
<line x1="416.60" y1="162.80" x2="421.80" y2="162.80" stroke="#000" stroke-width="1.05" stroke-linecap="square"/>
<rect x="428.40" y="177.40" width="9.70" height="37.60" fill="#000"/>
<line x1="433.80" y1="177.40" x2="433.80" y2="173.20" stroke="#000" stroke-width="1.05" stroke-linecap="square"/>
<line x1="431.20" y1="173.20" x2="436.40" y2="173.20" stroke="#000" stroke-width="1.05" stroke-linecap="square"/>
<rect x="443.10" y="212.80" width="7.50" height="2.20" fill="#fff" stroke="#555" stroke-width="0.9"/>
<line x1="446.85" y1="212.40" x2="446.85" y2="211.70" stroke="#000" stroke-width="1.05" stroke-linecap="square"/>
<line x1="445.25" y1="211.70" x2="448.45" y2="211.70" stroke="#000" stroke-width="1.05" stroke-linecap="square"/>
<path d="M421.30,158.60 L447.20,158.60 L447.20,208.60" fill="none" stroke="#000" stroke-width="1.05" stroke-linejoin="miter" stroke-linecap="square"/>
<path d="M434.70,169.20 L447.00,169.20" fill="none" stroke="#000" stroke-width="1.05" stroke-linejoin="miter" stroke-linecap="square"/>
<text x="428.00" y="156.90" font-size="5.0" stroke="#000" stroke-width="0.3" textLength="16.30" lengthAdjust="spacingAndGlyphs"><tspan font-style="italic">P</tspan> &lt; .05</text>
<text x="428.40" y="166.90" font-size="5.0" stroke="#000" stroke-width="0.3" textLength="15.90" lengthAdjust="spacingAndGlyphs"><tspan font-style="italic">P</tspan> &lt; .05</text>
<text x="378.00" y="221.70" font-size="5.0" stroke="#000" stroke-width="0.1" font-weight="bold" textLength="8.90" lengthAdjust="spacingAndGlyphs">PBS</text>
<text x="419.60" y="221.70" font-size="5.0" stroke="#000" stroke-width="0.1" font-weight="bold" textLength="26.90" lengthAdjust="spacingAndGlyphs">Bortezomib</text>
<text x="394.80" y="230.60" font-size="5.6" stroke="#000" stroke-width="0.1" font-weight="bold" textLength="26.10" lengthAdjust="spacingAndGlyphs">Treatment</text>
<rect x="465.40" y="150.60" width="9.50" height="3.00" fill="#d9d9d9" stroke="#333" stroke-width="0.8"/>
<text x="476.30" y="154.10" font-size="5.6" stroke="#000" stroke-width="0.22" textLength="26.20" lengthAdjust="spacingAndGlyphs">CD4(-) SC</text>
<rect x="465.00" y="158.10" width="10.30" height="3.80" fill="#000"/>
<text x="476.30" y="162.00" font-size="5.6" stroke="#000" stroke-width="0.22" textLength="26.20" lengthAdjust="spacingAndGlyphs">CD8(-) SC</text>
<rect x="465.40" y="166.30" width="9.50" height="3.00" fill="#fff" stroke="#333" stroke-width="0.8"/>
<text x="476.30" y="169.80" font-size="5.6" stroke="#000" stroke-width="0.22" textLength="42.50" lengthAdjust="spacingAndGlyphs">CD4(-)CD8(-) SC</text>
<line x1="138.20" y1="268.00" x2="138.20" y2="341.50" stroke="#000" stroke-width="1.25" stroke-linecap="square"/>
<line x1="137.60" y1="340.90" x2="250.50" y2="340.90" stroke="#000" stroke-width="1.25" stroke-linecap="square"/>
<line x1="135.90" y1="340.90" x2="138.20" y2="340.90" stroke="#000" stroke-width="1.0" stroke-linecap="square"/>
<text x="135.60" y="342.50" font-size="4.5" stroke="#000" stroke-width="0.1" font-weight="bold" text-anchor="end">0</text>
<line x1="135.90" y1="326.38" x2="138.20" y2="326.38" stroke="#000" stroke-width="1.0" stroke-linecap="square"/>
<text x="135.60" y="327.98" font-size="4.5" stroke="#000" stroke-width="0.1" font-weight="bold" text-anchor="end">1000</text>
<line x1="135.90" y1="311.86" x2="138.20" y2="311.86" stroke="#000" stroke-width="1.0" stroke-linecap="square"/>
<text x="135.60" y="313.46" font-size="4.5" stroke="#000" stroke-width="0.1" font-weight="bold" text-anchor="end">2000</text>
<line x1="135.90" y1="297.34" x2="138.20" y2="297.34" stroke="#000" stroke-width="1.0" stroke-linecap="square"/>
<text x="135.60" y="298.94" font-size="4.5" stroke="#000" stroke-width="0.1" font-weight="bold" text-anchor="end">3000</text>
<line x1="135.90" y1="282.82" x2="138.20" y2="282.82" stroke="#000" stroke-width="1.0" stroke-linecap="square"/>
<text x="135.60" y="284.42" font-size="4.5" stroke="#000" stroke-width="0.1" font-weight="bold" text-anchor="end">4000</text>
<line x1="135.90" y1="268.30" x2="138.20" y2="268.30" stroke="#000" stroke-width="1.0" stroke-linecap="square"/>
<text x="135.60" y="269.90" font-size="4.5" stroke="#000" stroke-width="0.1" font-weight="bold" text-anchor="end">5000</text>
<text x="120.10" y="305.00" font-size="6.0" stroke="#000" stroke-width="0.1" font-weight="bold" text-anchor="middle" textLength="59.20" lengthAdjust="spacingAndGlyphs" transform="rotate(-90 120.10 305.00)">Serum IFN-γ (pg/mL)</text>
<text x="167.30" y="257.90" font-size="6.6" stroke="#000" stroke-width="0.1" font-weight="bold" textLength="11.70" lengthAdjust="spacingAndGlyphs">FvB</text>
<line x1="182.50" y1="255.70" x2="187.50" y2="255.70" stroke="#000" stroke-width="1.1"/>
<path d="M190.60,255.70 L187.20,253.90 L187.20,257.50 Z" fill="#000"/>
<text x="193.20" y="257.90" font-size="6.6" stroke="#000" stroke-width="0.1" font-weight="bold" textLength="23.30" lengthAdjust="spacingAndGlyphs">BALB/c</text>
<rect x="146.00" y="283.80" width="9.20" height="57.10" fill="#d9d9d9" stroke="#666" stroke-width="0.9"/>
<line x1="150.80" y1="283.40" x2="150.80" y2="273.90" stroke="#000" stroke-width="1.05" stroke-linecap="square"/>
<line x1="148.30" y1="273.90" x2="153.30" y2="273.90" stroke="#000" stroke-width="1.05" stroke-linecap="square"/>
<rect x="161.00" y="318.10" width="10.00" height="22.80" fill="#000"/>
<line x1="166.00" y1="318.10" x2="166.00" y2="314.50" stroke="#000" stroke-width="1.05" stroke-linecap="square"/>
<line x1="163.60" y1="314.50" x2="168.40" y2="314.50" stroke="#000" stroke-width="1.05" stroke-linecap="square"/>
<rect x="175.80" y="335.10" width="9.60" height="5.80" fill="#fff" stroke="#555" stroke-width="0.9"/>
<line x1="180.60" y1="334.70" x2="180.60" y2="331.40" stroke="#000" stroke-width="1.05" stroke-linecap="square"/>
<line x1="178.20" y1="331.40" x2="183.00" y2="331.40" stroke="#000" stroke-width="1.05" stroke-linecap="square"/>
<path d="M150.20,265.30 L179.50,265.30 L179.50,322.50" fill="none" stroke="#000" stroke-width="1.05" stroke-linejoin="miter" stroke-linecap="square"/>
<path d="M148.90,272.50 L165.50,272.50 L165.50,309.00" fill="none" stroke="#000" stroke-width="1.05" stroke-linejoin="miter" stroke-linecap="square"/>
<text x="156.10" y="264.50" font-size="5.0" stroke="#000" stroke-width="0.3" textLength="15.60" lengthAdjust="spacingAndGlyphs"><tspan font-style="italic">P</tspan> &lt; .01</text>
<text x="147.30" y="271.50" font-size="5.0" stroke="#000" stroke-width="0.3" textLength="15.30" lengthAdjust="spacingAndGlyphs"><tspan font-style="italic">P</tspan> &lt; .01</text>
<rect x="200.90" y="305.70" width="9.30" height="35.20" fill="#d9d9d9" stroke="#666" stroke-width="0.9"/>
<line x1="206.80" y1="305.30" x2="206.80" y2="302.40" stroke="#000" stroke-width="1.05" stroke-linecap="square"/>
<line x1="203.90" y1="302.40" x2="209.70" y2="302.40" stroke="#000" stroke-width="1.05" stroke-linecap="square"/>
<rect x="215.50" y="307.80" width="10.40" height="33.10" fill="#000"/>
<line x1="220.70" y1="307.80" x2="220.70" y2="299.40" stroke="#000" stroke-width="1.05" stroke-linecap="square"/>
<line x1="218.10" y1="299.40" x2="223.30" y2="299.40" stroke="#000" stroke-width="1.05" stroke-linecap="square"/>
<rect x="230.40" y="336.10" width="9.60" height="4.80" fill="#fff" stroke="#555" stroke-width="0.9"/>
<line x1="235.30" y1="335.70" x2="235.30" y2="333.60" stroke="#000" stroke-width="1.05" stroke-linecap="square"/>
<line x1="232.80" y1="333.60" x2="237.80" y2="333.60" stroke="#000" stroke-width="1.05" stroke-linecap="square"/>
<path d="M207.10,285.00 L235.30,285.00 L235.30,329.00" fill="none" stroke="#000" stroke-width="1.05" stroke-linejoin="miter" stroke-linecap="square"/>
<path d="M221.00,295.40 L235.30,295.40" fill="none" stroke="#000" stroke-width="1.05" stroke-linejoin="miter" stroke-linecap="square"/>
<text x="214.90" y="283.70" font-size="5.0" stroke="#000" stroke-width="0.3" textLength="15.90" lengthAdjust="spacingAndGlyphs"><tspan font-style="italic">P</tspan> &lt; .01</text>
<text x="217.30" y="293.50" font-size="5.0" stroke="#000" stroke-width="0.3" textLength="15.40" lengthAdjust="spacingAndGlyphs"><tspan font-style="italic">P</tspan> &lt; .01</text>
<text x="160.40" y="348.60" font-size="5.0" stroke="#000" stroke-width="0.1" font-weight="bold" textLength="10.70" lengthAdjust="spacingAndGlyphs">PBS</text>
<text x="205.80" y="348.60" font-size="5.0" stroke="#000" stroke-width="0.1" font-weight="bold" textLength="30.40" lengthAdjust="spacingAndGlyphs">Bortezomib</text>
<text x="178.80" y="357.80" font-size="5.6" stroke="#000" stroke-width="0.1" font-weight="bold" textLength="27.40" lengthAdjust="spacingAndGlyphs">Treatment</text>
<line x1="304.30" y1="263.60" x2="304.30" y2="335.60" stroke="#000" stroke-width="1.25" stroke-linecap="square"/>
<line x1="302.00" y1="263.90" x2="304.30" y2="263.90" stroke="#000" stroke-width="1.0" stroke-linecap="square"/>
<text x="301.70" y="265.50" font-size="4.5" stroke="#000" stroke-width="0.1" font-weight="bold" text-anchor="end">1</text>
<line x1="302.00" y1="287.70" x2="304.30" y2="287.70" stroke="#000" stroke-width="1.0" stroke-linecap="square"/>
<text x="301.70" y="289.30" font-size="4.5" stroke="#000" stroke-width="0.1" font-weight="bold" text-anchor="end">0</text>
<line x1="302.00" y1="311.50" x2="304.30" y2="311.50" stroke="#000" stroke-width="1.0" stroke-linecap="square"/>
<text x="301.70" y="313.10" font-size="4.5" stroke="#000" stroke-width="0.1" font-weight="bold" text-anchor="end">-1</text>
<line x1="302.00" y1="335.30" x2="304.30" y2="335.30" stroke="#000" stroke-width="1.0" stroke-linecap="square"/>
<text x="301.70" y="336.90" font-size="4.5" stroke="#000" stroke-width="0.1" font-weight="bold" text-anchor="end">-2</text>
<line x1="304.30" y1="287.70" x2="413.00" y2="287.70" stroke="#000" stroke-width="1.25" stroke-linecap="square"/>
<text x="295.30" y="299.80" font-size="5.8" stroke="#000" stroke-width="0.3" text-anchor="middle" textLength="33.00" lengthAdjust="spacingAndGlyphs" transform="rotate(-90 295.30 299.80)">ΔΔCt TNFR1</text>
<line x1="318.00" y1="283.50" x2="318.00" y2="292.00" stroke="#000" stroke-width="1.05" stroke-linecap="square"/>
<line x1="313.60" y1="283.50" x2="322.90" y2="283.50" stroke="#000" stroke-width="1.05" stroke-linecap="square"/>
<line x1="313.60" y1="292.00" x2="322.90" y2="292.00" stroke="#000" stroke-width="1.05" stroke-linecap="square"/>
<rect x="335.80" y="270.33" width="18.40" height="17.37" fill="#000"/>
<line x1="345.00" y1="270.00" x2="345.00" y2="265.70" stroke="#000" stroke-width="1.05" stroke-linecap="square"/>
<line x1="341.10" y1="265.70" x2="348.90" y2="265.70" stroke="#000" stroke-width="1.05" stroke-linecap="square"/>
<rect x="362.80" y="287.70" width="18.40" height="31.10" fill="#000"/>
<line x1="372.00" y1="318.80" x2="372.00" y2="324.30" stroke="#000" stroke-width="1.05" stroke-linecap="square"/>
<line x1="366.90" y1="324.30" x2="376.20" y2="324.30" stroke="#000" stroke-width="1.05" stroke-linecap="square"/>
<rect x="390.00" y="284.60" width="18.00" height="3.10" fill="#000"/>
<line x1="399.00" y1="274.20" x2="399.00" y2="295.00" stroke="#000" stroke-width="1.05" stroke-linecap="square"/>
<line x1="394.60" y1="274.20" x2="403.90" y2="274.20" stroke="#000" stroke-width="1.05" stroke-linecap="square"/>
<line x1="394.60" y1="295.00" x2="403.90" y2="295.00" stroke="#000" stroke-width="1.05" stroke-linecap="square"/>
<line x1="316.20" y1="261.10" x2="342.70" y2="261.10" stroke="#000" stroke-width="1.05" stroke-linecap="square"/>
<line x1="372.70" y1="256.90" x2="398.10" y2="256.90" stroke="#000" stroke-width="1.05" stroke-linecap="square"/>
<text x="320.00" y="259.80" font-size="5.0" stroke="#000" stroke-width="0.3" textLength="16.10" lengthAdjust="spacingAndGlyphs"><tspan font-style="italic">P</tspan> &lt; .05</text>
<text x="376.60" y="255.10" font-size="5.0" stroke="#000" stroke-width="0.3" textLength="16.50" lengthAdjust="spacingAndGlyphs"><tspan font-style="italic">P</tspan> &lt; .05</text>
<text x="273.20" y="345.60" font-size="5.8" stroke="#000" stroke-width="0.1" font-weight="bold" textLength="38.50" lengthAdjust="spacingAndGlyphs">CD4 depletion</text>
<text x="273.20" y="352.60" font-size="5.8" stroke="#000" stroke-width="0.1" font-weight="bold" textLength="32.10" lengthAdjust="spacingAndGlyphs">Bortezomib</text>
<text x="318.00" y="345.50" font-size="5.0" stroke="#000" stroke-width="0.1" font-weight="bold" text-anchor="middle">-</text>
<text x="318.00" y="352.50" font-size="5.0" stroke="#000" stroke-width="0.1" font-weight="bold" text-anchor="middle">-</text>
<text x="345.50" y="345.50" font-size="5.0" stroke="#000" stroke-width="0.1" font-weight="bold" text-anchor="middle">-</text>
<text x="345.50" y="352.50" font-size="5.0" stroke="#000" stroke-width="0.1" font-weight="bold" text-anchor="middle">+</text>
<text x="372.70" y="345.50" font-size="5.0" stroke="#000" stroke-width="0.1" font-weight="bold" text-anchor="middle">+</text>
<text x="372.70" y="352.50" font-size="5.0" stroke="#000" stroke-width="0.1" font-weight="bold" text-anchor="middle">-</text>
<text x="399.70" y="345.50" font-size="5.0" stroke="#000" stroke-width="0.1" font-weight="bold" text-anchor="middle">+</text>
<text x="399.70" y="352.50" font-size="5.0" stroke="#000" stroke-width="0.1" font-weight="bold" text-anchor="middle">+</text>
<line x1="48.00" y1="221.20" x2="48.00" y2="223.60" stroke="#000" stroke-width="1.0" stroke-linecap="square"/>
<line x1="98.60" y1="221.20" x2="98.60" y2="223.60" stroke="#000" stroke-width="1.0" stroke-linecap="square"/>
<line x1="245.90" y1="221.30" x2="245.90" y2="223.70" stroke="#000" stroke-width="1.0" stroke-linecap="square"/>
<line x1="296.50" y1="221.30" x2="296.50" y2="223.70" stroke="#000" stroke-width="1.0" stroke-linecap="square"/>
<line x1="382.60" y1="215.00" x2="382.60" y2="217.40" stroke="#000" stroke-width="1.0" stroke-linecap="square"/>
<line x1="433.20" y1="215.00" x2="433.20" y2="217.40" stroke="#000" stroke-width="1.0" stroke-linecap="square"/>
<line x1="166.00" y1="340.90" x2="166.00" y2="343.30" stroke="#000" stroke-width="1.0" stroke-linecap="square"/>
<line x1="220.70" y1="340.90" x2="220.70" y2="343.30" stroke="#000" stroke-width="1.0" stroke-linecap="square"/>
</svg>
</body></html>
